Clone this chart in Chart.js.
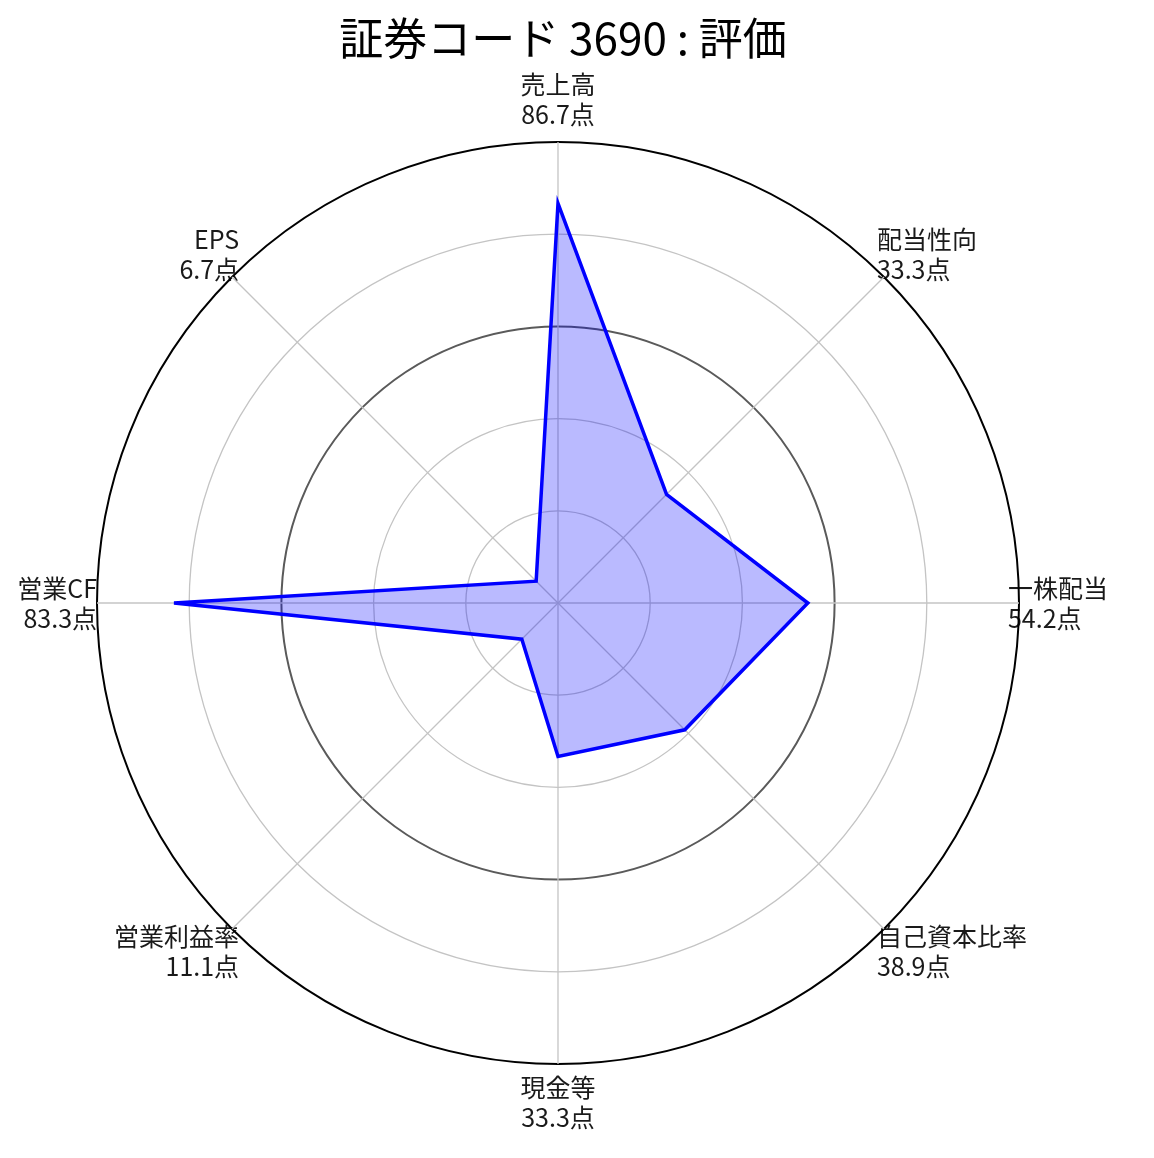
<!DOCTYPE html>
<html><head><meta charset="utf-8">
<script src="https://cdn.jsdelivr.net/npm/chart.js@4"></script>
<style>html,body{margin:0;padding:0;background:#fff}#wrap{width:1154px;height:1158px}</style>
</head><body><div id="wrap"><canvas id="c" width="1154" height="1158"></canvas></div>
<script>
const titleText = '証券コード 3690 : 評価';
const categories = ['売上高','配当性向','一株配当','自己資本比率','現金等','営業利益率','営業CF','EPS'];
const scores = [86.7, 33.3, 54.2, 38.9, 33.3, 11.1, 83.3, 6.7];
const ringTicks = [0, 20, 40, 60, 80, 100];

const labels = categories.map((c, i) => [c, scores[i].toFixed(1) + '点']);
const labelPadding = [13, -10, -11, -10, 9, -10, 0, -10];
const FONT = "'Noto Sans CJK JP', 'Noto Sans', sans-serif";

new Chart(document.getElementById('c'), {
  type: 'radar',
  data: {
    labels: labels,
    datasets: [{
      data: scores,
      borderColor: '#0000ff',
      backgroundColor: 'rgba(0,0,255,0.27)',
      borderWidth: 3.5,
      pointRadius: 0,
      fill: true,
      tension: 0
    }]
  },
  options: {
    responsive: false,
    animation: false,
    devicePixelRatio: 1,
    layout: { padding: { left: 13, right: 41, top: 0, bottom: 6 } },
    plugins: {
      legend: { display: false },
      tooltip: { enabled: false },
      title: {
        display: true,
        text: titleText,
        color: '#000',
        font: { family: FONT, size: 44, weight: 'normal', lineHeight: 1.2 },
        padding: { top: 12, bottom: -13 }
      }
    },
    scales: {
      r: {
        min: 0, max: 100,
        afterBuildTicks: (s) => { s.ticks = ringTicks.map(v => ({ value: v })); },
        ticks: { display: false },
        grid: {
          circular: true,
          color: (ctx) => ctx.tick && ctx.tick.value === 100 ? '#000' : (ctx.tick && ctx.tick.value === 60 ? '#5a5a5a' : '#c4c4c4'),
          lineWidth: (ctx) => ctx.tick && ctx.tick.value === 100 ? 2 : (ctx.tick && ctx.tick.value === 60 ? 2 : 1.3)
        },
        angleLines: { color: '#c4c4c4', lineWidth: 1.3 },
        pointLabels: {
          color: '#1a1a1a',
          font: { family: FONT, size: 25, lineHeight: 1.2 },
          padding: (ctx) => labelPadding[ctx.index]
        }
      }
    }
  }
});
</script></body></html>
